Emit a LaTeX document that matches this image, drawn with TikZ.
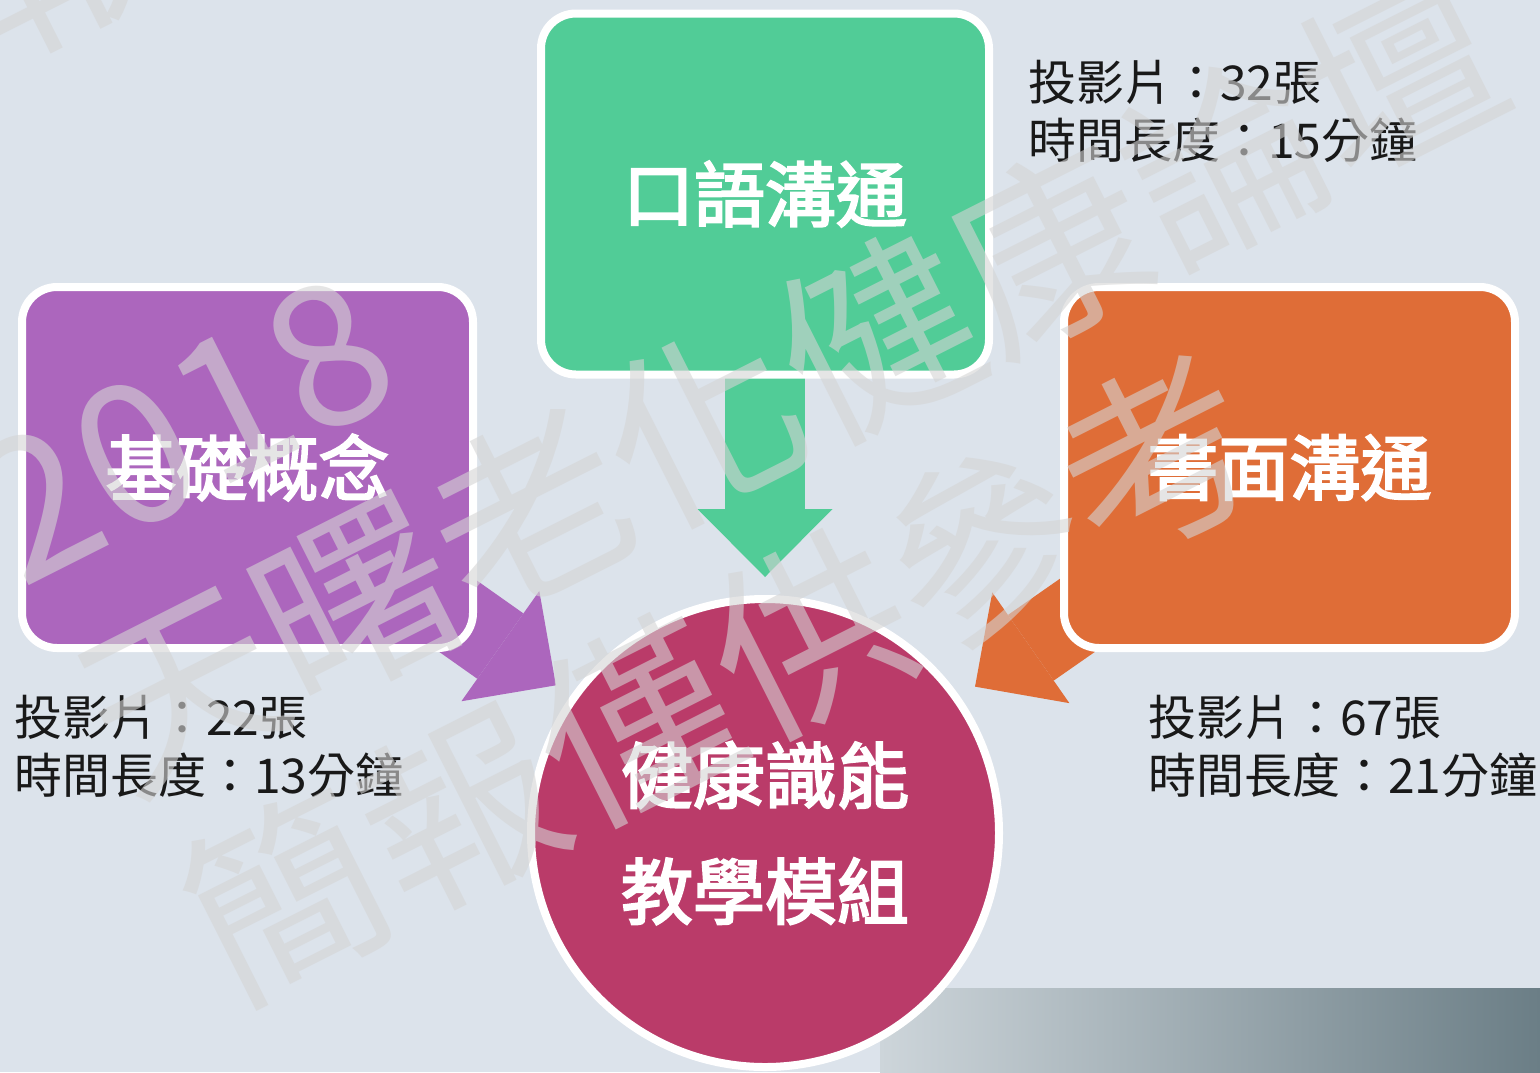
\documentclass[tikz,border=0pt]{standalone}
\usepackage{fontspec}
\setmainfont{Noto Sans CJK TC}
\newfontfamily\rotulo[FakeBold=3]{Noto Sans CJK TC}
\usetikzlibrary{arrows.meta,positioning}
\definecolor{fundo}{HTML}{DCE3EB}
\definecolor{verde}{HTML}{51CC97}
\definecolor{roxo}{HTML}{AC66BD}
\definecolor{laranja}{HTML}{DF6D37}
\definecolor{vinho}{HTML}{BA3B69}
\definecolor{faixaclara}{HTML}{CDD5DA}
\definecolor{faixaescura}{HTML}{6B7E86}
\definecolor{marcacor}{HTML}{D4D4D4}
\pgfdeclarelayer{camadafundo}
\pgfdeclarelayer{camadasetas}
\pgfsetlayers{camadafundo,camadasetas,main}
\def\rot{26.8}
\def\marcatexto{2018\\天曙老化健康論壇\\簡報僅供參考}
\tikzset{
  tema/.style={rounded corners=35pt,draw=white,line width=8pt,minimum width=451pt,minimum height=361pt,text=white,font=\fontsize{71}{80}\selectfont\rotulo},
  dados/.style={align=left,inner sep=0pt,anchor=west,text=black!90,font=\fontsize{48}{58}\selectfont},
  seta/.style={line width=80pt,-{Triangle[width=135pt,length=68pt,line width=0pt]},shorten >=18pt},
  marca/.style={align=left,inner sep=0pt,anchor=west,text=marcacor,opacity=.6,rotate=\rot,font=\fontsize{195}{234}\selectfont}
}
\begin{document}
\begin{tikzpicture}[x=1pt,y=-1pt]
  \useasboundingbox (0,0) rectangle (1540,1072);
  \begin{pgfonlayer}{camadafundo}
    \fill[fundo] (0,0) rectangle (1540,1072);
    \fill[left color=faixaclara,right color=faixaescura] (880,988) rectangle (1540,1072);
  \end{pgfonlayer}
  % temas
  \node[tema,fill=verde,minimum width=448pt] (oral) at (765,194) {口語溝通};
  \node[tema,fill=roxo] (base) at (247.5,467.5) {基礎概念};
  \node[tema,fill=laranja] (escrita) at (1289.5,467.5) {書面溝通};
  \node[circle,draw=white,line width=8pt,fill=vinho,minimum size=468pt,inner sep=0pt,text=white,align=center,font=\fontsize{72}{116}\selectfont\rotulo] (modulo) at (765,833) {健康識能\\教學模組};
  \begin{pgfonlayer}{camadasetas}
    \foreach \t/\c in {oral/verde,base/roxo,escrita/laranja}
      \draw[seta,\c] (\t.center) -- (modulo);
  \end{pgfonlayer}
  % dados
  \node[dados] (doral) at (1028,111) {投影片：32張\\時間長度：15分鐘};
  \node[dados] (dbase) at (14,746) {投影片：22張\\時間長度：13分鐘};
  \node[dados] (descrita) at (1148,746) {投影片：67張\\時間長度：21分鐘};
  % marca
  \node[marca] (marca) at (99,742) {\marcatexto};
  \node[marca] (marcacima) at (-305,-115) {\marcatexto};
\end{tikzpicture}
\end{document}
